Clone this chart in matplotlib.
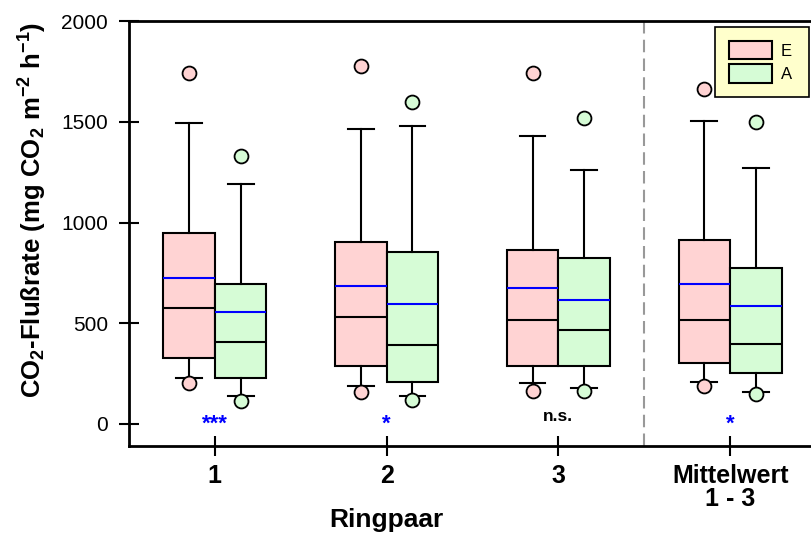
import matplotlib
matplotlib.use('Agg')
import matplotlib.pyplot as plt
from matplotlib.patches import Patch

plt.rcParams['font.family'] = ['Liberation Sans', 'DejaVu Sans']
plt.rcParams['mathtext.fontset'] = 'custom'
plt.rcParams['mathtext.rm'] = 'Liberation Sans:bold'
plt.rcParams['mathtext.bf'] = 'Liberation Sans:bold'
plt.rcParams['mathtext.it'] = 'Liberation Sans:bold'

# Data
groups = ['1', '2', '3', 'Mittelwert\n1 - 3']
signif = ['***', '*', 'n.s.', '*']
signif_colors = ['blue', 'blue', 'black', 'blue']

# E series
e_whishi = [1494, 1464, 1432, 1504]
e_q3 = [947, 906, 866, 916]
e_mean = [727, 687, 676, 697]
e_med = [578, 530, 518, 517]
e_q1 = [329, 290, 290, 301]
e_whislo = [230, 190, 202, 210]
e_fliers = [[1742, 202], [1780, 160], [1742, 164], [1666, 189]]

# A series
a_whishi = [1194, 1482, 1263, 1273]
a_q3 = [697, 856, 826, 776]
a_mean = [558, 598, 618, 588]
a_med = [409, 391, 468, 399]
a_q1 = [230, 210, 290, 252]
a_whislo = [141, 141, 180, 161]
a_fliers = [[1333, 114], [1600, 119], [1522, 164], [1502, 148]]

E_COLOR = '#ffd3d3'
A_COLOR = '#d6fcd6'
BOX_W = 0.30


def make_stats(hi, q3, mean, med, q1, lo, fliers):
    stats = []
    for i in range(len(hi)):
        stats.append(dict(whishi=hi[i], q3=q3[i], mean=mean[i], med=med[i],
                          q1=q1[i], whislo=lo[i], fliers=fliers[i]))
    return stats


fig = plt.figure(figsize=(8.12, 5.4), dpi=100)
ax = fig.add_axes([129 / 812, (540 - 445.7) / 540, 687 / 812, 424.4 / 540])

positions = list(range(1, len(groups) + 1))

for stats, color, off in [
        (make_stats(e_whishi, e_q3, e_mean, e_med, e_q1, e_whislo, e_fliers), E_COLOR, -BOX_W / 2),
        (make_stats(a_whishi, a_q3, a_mean, a_med, a_q1, a_whislo, a_fliers), A_COLOR, BOX_W / 2)]:
    ax.bxp(stats, positions=[p + off for p in positions], widths=BOX_W,
           patch_artist=True, showmeans=True, meanline=True,
           boxprops=dict(facecolor=color, edgecolor='black', linewidth=1.5),
           medianprops=dict(color='black', linewidth=1.5),
           meanprops=dict(color='blue', linestyle='-', linewidth=1.5),
           whiskerprops=dict(color='black', linewidth=1.5),
           capprops=dict(color='black', linewidth=1.5),
           capwidths=BOX_W / 2,
           flierprops=dict(marker='o', markerfacecolor=color, markeredgecolor='black',
                           markersize=10, markeredgewidth=1.3))

# separator between single ring pairs and the mean
ax.axvline(3.5, color='#999999', linestyle=(0, (6, 3)), linewidth=1.5, zorder=0)

for p, s, c in zip(positions, signif, signif_colors):
    if s == 'n.s.':
        ax.text(p, 35, s, color=c, ha='center', va='center', fontsize=12.5, fontweight='bold')
    else:
        ax.text(p, 0, s, color=c, ha='center', va='center', fontsize=16, fontweight='bold')

ax.set_xlim(0.5, 4.5)
ax.set_ylim(-108, 2000)
ax.set_xticks(positions)
ax.set_xticklabels(groups, fontsize=18, fontweight='bold', linespacing=0.95)
ax.set_yticks([0, 500, 1000, 1500, 2000])
ax.tick_params(axis='both', direction='inout', length=14, width=1.5)
ax.tick_params(axis='y', labelsize=15, pad=8)
ax.tick_params(axis='x', pad=6)
for sp in ['left', 'bottom', 'top']:
    ax.spines[sp].set_linewidth(2)
ax.spines['right'].set_visible(False)

ax.set_ylabel('CO$_2$-Flußrate (mg CO$_2$ m$^{-2}$ h$^{-1}$)', fontsize=18.5, fontweight='bold')
ax.yaxis.set_label_coords(-0.117, 0.555)
ax.text(0.375, -0.1916, 'Ringpaar', transform=ax.transAxes, ha='center', va='baseline',
        fontsize=19, fontweight='bold')

handles = [Patch(facecolor=E_COLOR, edgecolor='black', linewidth=1.5, label='E'),
           Patch(facecolor=A_COLOR, edgecolor='black', linewidth=1.5, label='A')]
leg = fig.legend(handles=handles, loc='upper left',
                 bbox_to_anchor=(715 / 812, 1 - 98 / 540, 94 / 812, 71 / 540),
                 mode='expand', borderaxespad=0,
                 fontsize=12, handlelength=2.6, handleheight=1.3, labelspacing=0.3,
                 fancybox=False, framealpha=1, facecolor='#ffffcc', edgecolor='black',
                 borderpad=0.85, handletextpad=0.5)
leg.get_frame().set_linewidth(1.2)

fig.savefig('out.png', dpi=100)
